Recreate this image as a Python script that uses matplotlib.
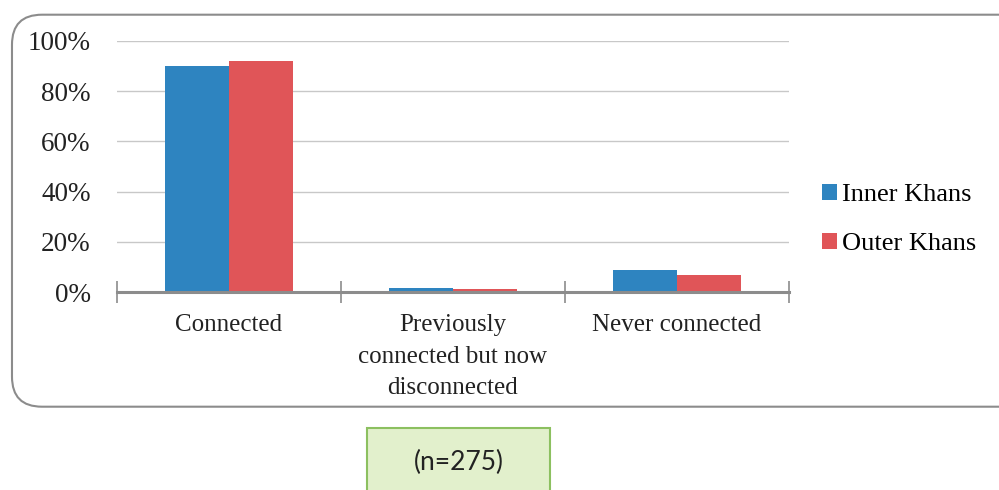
import matplotlib.pyplot as plt
from matplotlib.patches import FancyBboxPatch, Rectangle
import numpy as np

categories = ["Connected", "Previously\nconnected but now\ndisconnected", "Never connected"]
inner_khans = [90.0, 1.5, 8.7]
outer_khans = [92.0, 1.1, 6.7]
y_ticks = [0, 20, 40, 60, 80, 100]
note = "(n=275)"

plt.rcParams['font.family'] = ['Liberation Serif', 'DejaVu Serif']

fig = plt.figure(figsize=(9.99, 4.9), dpi=100)

# rounded outer frame
frame = FancyBboxPatch((0.012, 0.17), 1.02, 0.80, boxstyle="round,pad=0,rounding_size=0.03",
                       transform=fig.transFigure, facecolor="white", edgecolor="#8c8c8c",
                       linewidth=1.5, mutation_aspect=2.04, zorder=-2)
fig.patches.append(frame)

ax = fig.add_axes([117 / 999, 1 - 292 / 490, (789 - 117) / 999, (292 - 41) / 490])
ax.set_facecolor("none")

x = np.arange(len(categories))
w = 64 / 224
ax.bar(x - w / 2, inner_khans, w, color="#2e84c0", label="Inner Khans", zorder=3)
ax.bar(x + w / 2, outer_khans, w, color="#e05558", label="Outer Khans", zorder=3)

ax.set_xlim(-0.5, 2.5)
ax.set_ylim(0, 100)
ax.set_yticks(y_ticks)
ax.set_yticklabels([f"{v}%" for v in y_ticks], fontsize=19.5, color="#222222")
ax.yaxis.grid(True, color="#c8c8c8", linewidth=1, zorder=0)
ax.tick_params(axis="y", length=0, pad=19)

ax.set_xticks([-0.5, 0.5, 1.5, 2.5])
ax.set_xticklabels([])
ax.set_xticks(x, minor=True)
ax.set_xticklabels(categories, minor=True, fontsize=18, color="#222222", linespacing=1.55)
ax.tick_params(axis="x", which="major", direction="inout", length=16, width=1.2, color="#8c8c8c")
ax.tick_params(axis="x", which="minor", length=0, pad=16)

for s in ["top", "right", "left"]:
    ax.spines[s].set_visible(False)
ax.spines["bottom"].set_color("#8c8c8c")
ax.spines["bottom"].set_linewidth(2.2)
ax.spines["bottom"].set_zorder(4)

fig.legend(*ax.get_legend_handles_labels(), loc="center left",
           bbox_to_anchor=(822 / 999, 1 - 219.5 / 490), frameon=False, fontsize=19,
           handlelength=0.55, handleheight=0.55, handletextpad=0.2, labelspacing=1.0,
           borderpad=0, borderaxespad=0)

# note box
box = Rectangle((367 / 999, -0.01), (550 - 367) / 999, (490 - 428) / 490 + 0.01,
                transform=fig.transFigure, facecolor="#e2f0cc", edgecolor="#8cc060",
                linewidth=1.5, zorder=-1)
fig.patches.append(box)
fig.text(459 / 999, 1 - 462 / 490, note, ha="center", va="center", fontsize=19,
         family="Lato", color="#222222")

fig.savefig("out.png", dpi=100)
